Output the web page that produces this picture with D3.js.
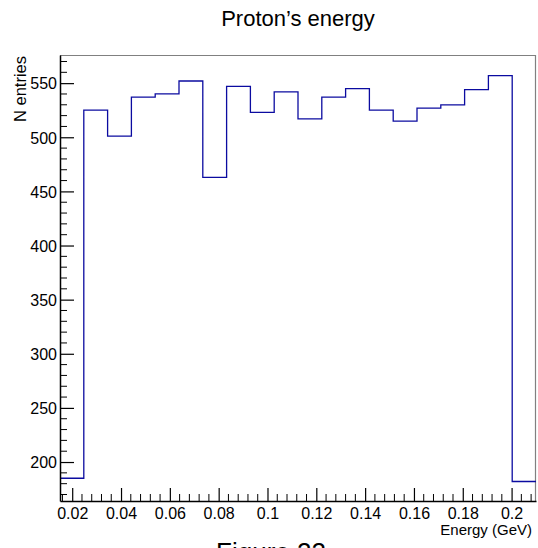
<!DOCTYPE html>
<html>
<head>
<meta charset="utf-8">
<script src="https://cdn.jsdelivr.net/npm/d3@7"></script>
<style>
  html, body { margin: 0; padding: 0; background: #fff; }
  svg { display: block; }
  text { font-family: "Liberation Sans", Arial, Helvetica, sans-serif; fill: #000; }
</style>
</head>
<body>
<script>
// Histogram binning: 20 equal bins between these limits (GeV)
const binRange = [0.015, 0.21];
// Entries per bin
const counts = [185, 525, 501, 537, 540, 552, 463, 547, 523, 542,
                517, 537, 545, 525, 515, 527, 530, 544, 557, 182];
// Axis ticks
const xMajorTicks = [0.02, 0.04, 0.06, 0.08, 0.1, 0.12, 0.14, 0.16, 0.18, 0.2];
const xTickLabels = ["0.02", "0.04", "0.06", "0.08", "0.1", "0.12", "0.14", "0.16", "0.18", "0.2"];
const yMajorTicks = [200, 250, 300, 350, 400, 450, 500, 550];
const yRange = [164, 576];

const W = 538, H = 548;
const frame = { left: 60, right: 536, top: 55, bottom: 501 };

const svg = d3.select("body").append("svg").attr("width", W).attr("height", H);

const x = d3.scaleLinear().domain(binRange).range([frame.left, frame.right]);
const y = d3.scaleLinear().domain(yRange).range([frame.bottom, frame.top]);

// Frame: top and right edges in grey, axes in black
svg.append("line").attr("x1", frame.left).attr("x2", frame.right)
  .attr("y1", frame.top + 0.5).attr("y2", frame.top + 0.5)
  .attr("stroke", "#808080").attr("stroke-width", 1.2);
svg.append("line").attr("x1", frame.right - 0.5).attr("x2", frame.right - 0.5)
  .attr("y1", frame.top).attr("y2", frame.bottom)
  .attr("stroke", "#808080").attr("stroke-width", 1.2);

// Histogram outline
const nBins = counts.length;
const binW = (binRange[1] - binRange[0]) / nBins;
const pts = counts.map((c, i) => [binRange[0] + i * binW, c]);
pts.push([binRange[1], counts[nBins - 1]]);
const line = d3.line().x(d => x(d[0])).y(d => y(d[1])).curve(d3.curveStepAfter);
svg.append("path").attr("d", line(pts))
  .attr("fill", "none").attr("stroke", "#0b0ba0").attr("stroke-width", 1.3);

// X axis with ticks pointing into the frame
const xMinor = d3.range(0.016, 0.2095, 0.004).filter(v => !xMajorTicks.some(m => Math.abs(m - v) < 1e-6));
const xAxis = d3.axisBottom(x).tickValues(xMajorTicks)
  .tickFormat((d, i) => xTickLabels[i]).tickSize(-13).tickPadding(0).tickSizeOuter(0);
const gx = svg.append("g").attr("transform", `translate(0,${frame.bottom})`).call(xAxis);
gx.select(".domain").attr("stroke", "#000").attr("stroke-width", 1.5);
gx.selectAll(".tick line").attr("stroke", "#000").attr("stroke-width", 1.2);
gx.selectAll(".tick text").attr("font-size", 16).attr("y", 18).attr("dy", 0)
  .attr("font-family", "Liberation Sans, Arial, sans-serif").attr("fill", "#000");
svg.append("g").selectAll("line").data(xMinor).join("line")
  .attr("x1", d => x(d)).attr("x2", d => x(d))
  .attr("y1", frame.bottom).attr("y2", frame.bottom - 7)
  .attr("stroke", "#000").attr("stroke-width", 1);

// Y axis with ticks pointing into the frame
const yMinor = d3.range(170, 576, 10).filter(v => v % 50 !== 0);
const yAxis = d3.axisLeft(y).tickValues(yMajorTicks)
  .tickSize(-14).tickPadding(3).tickSizeOuter(0);
const gy = svg.append("g").attr("transform", `translate(${frame.left},0)`).call(yAxis);
gy.select(".domain").attr("stroke", "#000").attr("stroke-width", 1.5);
gy.selectAll(".tick line").attr("stroke", "#000").attr("stroke-width", 1.2);
gy.selectAll(".tick text").attr("font-size", 16).attr("x", -3).attr("dy", "0.36em")
  .attr("font-family", "Liberation Sans, Arial, sans-serif").attr("fill", "#000");
svg.append("g").selectAll("line").data(yMinor).join("line")
  .attr("x1", frame.left).attr("x2", frame.left + 7)
  .attr("y1", d => y(d)).attr("y2", d => y(d))
  .attr("stroke", "#000").attr("stroke-width", 1);

// Titles
svg.append("text").attr("x", 298).attr("y", 26).attr("text-anchor", "middle")
  .attr("font-size", 22).text("Proton\u2019s energy");
svg.append("text").attr("x", frame.right - 4).attr("y", 535).attr("text-anchor", "end")
  .attr("font-size", 15).text("Energy (GeV)");
svg.append("text").attr("transform", `translate(26,${frame.top + 1}) rotate(-90)`)
  .attr("text-anchor", "end").attr("font-size", 16.5).text("N entries");

// Caption below the plot
svg.append("text").attr("x", 271).attr("y", 561).attr("text-anchor", "middle")
  .attr("font-family", "Liberation Serif, Times New Roman, serif")
  .attr("font-size", 26).text("Figure 22");
</script>
</body>
</html>
